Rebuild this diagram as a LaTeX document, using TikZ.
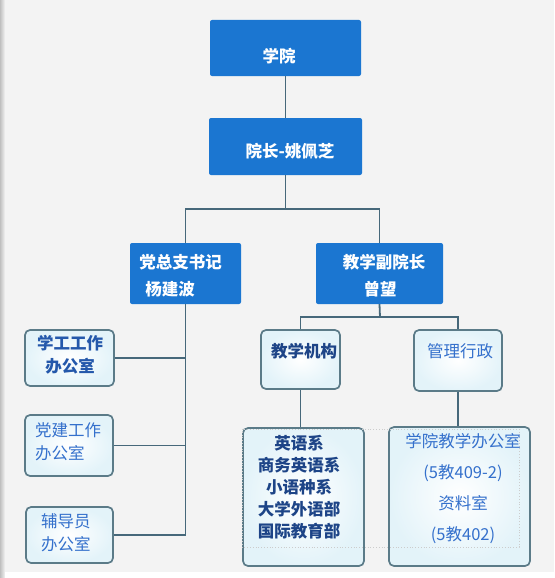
\documentclass[tikz,border=0pt]{standalone}
\usepackage{fontspec}
\setmainfont{Noto Sans CJK SC}
\usepackage{tikz}
\usetikzlibrary{positioning}
\definecolor{orgblue}{HTML}{1B76D1}
\definecolor{orgedge}{HTML}{5B7B88}
\definecolor{orgglow}{HTML}{E3F3F9}
\definecolor{orgline}{HTML}{46687A}
\definecolor{orgbg}{HTML}{F3F3F3}
\definecolor{orgnavy}{HTML}{1D4487}
\definecolor{orgdark}{HTML}{2458AB}
\definecolor{orglight}{HTML}{3470CC}

\begin{document}
\begin{tikzpicture}[x=1pt,y=-1pt,
  bluebox/.style={fill=orgblue,rounded corners=2pt,inner sep=0pt},
  wbox/.style={draw=orgedge,line width=1.7pt,rounded corners=5pt,inner sep=0pt,
    inner color=white,outer color=orgglow},
  conn/.style={draw=orgline,line width=1.8pt},
  wtxt/.style={text=white,font=\bfseries\fontsize{16.5}{22}\selectfont,inner sep=0pt},
  btxt/.style={font=\fontsize{16.5}{23}\selectfont,inner sep=0pt}]
  \useasboundingbox (0,0) rectangle (554,578);
  % background
  \fill[orgbg] (0,0) rectangle (554,578);
  \shade[left color=black!25,right color=orgbg] (0,0) rectangle (5,578);
  \fill[white!98!orgbg] (5,572) rectangle (554,578);
  % top
  \node[bluebox,minimum width=151pt,minimum height=56pt] (college) at (285.5,48) {};
  \node[wtxt] (college-t) at (279,56) {学院};
  \node[bluebox,minimum width=153pt,minimum height=57pt] (dean) at (285.5,146.5) {};
  \node[wtxt] (dean-t) at (290,151) {院长-姚佩芝};
  % second level
  \node[bluebox,minimum width=111pt,minimum height=61pt] (party) at (185.5,273.5) {};
  \node[wtxt,align=left] (party-t) at (180.5,275.5) {党总支书记\\[5pt]\hspace{6pt}杨建波};
  \node[bluebox,minimum width=127pt,minimum height=61pt] (vice) at (379.5,273.5) {};
  \node[wtxt,align=center] (vice-t) at (384,275.5) {教学副院长\\[5pt]\hspace{-8pt}曾望};
  % party offices
  \node[wbox,minimum width=89pt,minimum height=56pt] (xuegong) at (69.5,358) {};
  \node[btxt,text=orgdark,font=\bfseries\fontsize{16.5}{23}\selectfont,align=center] (xuegong-t) at (70,354.5) {学工工作\\办公室};
  \node[wbox,minimum width=88pt,minimum height=61pt] (dangjian) at (69,445.5) {};
  \node[btxt,text=orglight,align=left,anchor=west] (dangjian-t) at (35,442) {党建工作\\办公室};
  \node[wbox,minimum width=87pt,minimum height=56pt] (fudao) at (69.5,535) {};
  \node[btxt,text=orglight,align=left,anchor=west] (fudao-t) at (41,532.5) {辅导员\\办公室};
  % teaching side
  \node[wbox,minimum width=79pt,minimum height=59pt] (jiaoxue) at (300.5,359.5) {};
  \node[btxt,text=orgnavy,font=\bfseries\fontsize{16.5}{23}\selectfont] (jiaoxue-t) at (304,351) {教学机构};
  \node[wbox,minimum width=88pt,minimum height=61pt] (guanli) at (458,360.5) {};
  \node[btxt,text=orglight] (guanli-t) at (460,351) {管理行政};
  \node[wbox,minimum width=121pt,minimum height=138pt] (depts) at (303.5,497) {};
  \node[wbox,minimum width=141pt,minimum height=139pt] (office) at (459.5,496.5) {};
  \draw[black!20,dotted,line width=0.8pt] (242,429) rectangle (519,547);
  \node[btxt,text=orgnavy,font=\bfseries\fontsize{16.5}{22}\selectfont,align=center] (depts-t) at (299,487)
    {英语系\\商务英语系\\小语种系\\大学外语部\\国际教育部};
  \node[btxt,text=orglight,align=center] (office-t) at (463,489)
    {学院教学办公室\\[8pt](5教409-2)\\[8pt]资料室\\[8pt](5教402)};
  % connectors
  \coordinate (fork1) at (285.5,209);
  \coordinate (fork2) at (380,317);
  \draw[conn] (college.south) -- (dean.north);
  \draw[conn] (dean.south) -- (fork1);
  \draw[conn] (party.north) |- (fork1) -| (vice.north);
  \draw[conn] (party.south) |- (fudao.east);
  \draw[conn] (xuegong.east) -- (xuegong.east -| party.south);
  \draw[conn] (dangjian.east) -- (dangjian.east -| party.south);
  \draw[conn] (vice.south) -- (fork2);
  \draw[conn] (jiaoxue.north) |- (fork2) -| (guanli.north);
  \draw[conn] (jiaoxue.south) -- (jiaoxue.south |- depts.north);
  \draw[conn] (guanli.south) -- (guanli.south |- office.north);
\end{tikzpicture}
\end{document}
